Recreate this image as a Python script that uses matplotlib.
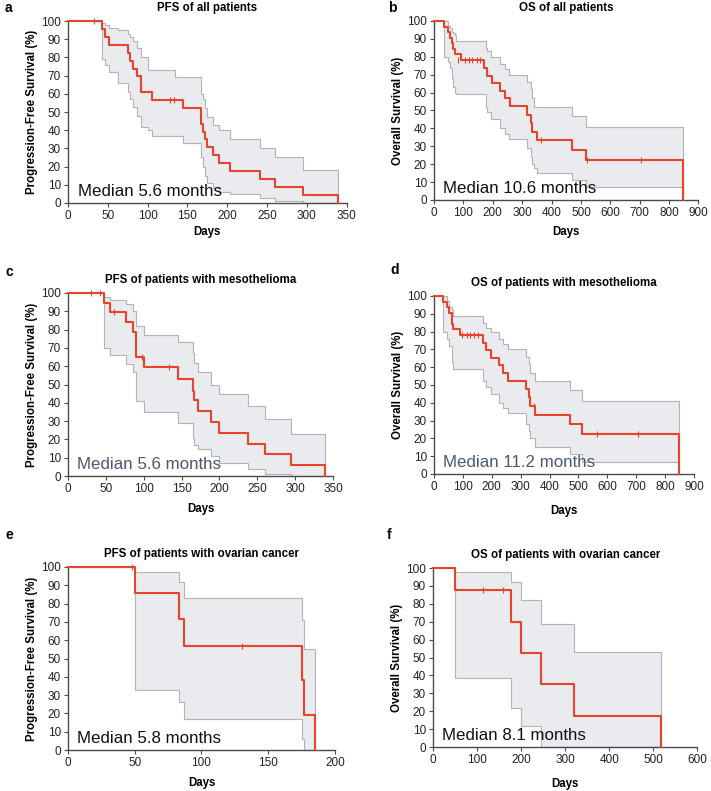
import matplotlib
matplotlib.use("Agg")
import matplotlib.pyplot as plt

plt.rcParams['font.family'] = ['Liberation Sans', 'DejaVu Sans']

# grid of days where any of the three curves changes: survival %, upper CI %, lower CI %
pfs_all_days = [0, 43, 46, 52, 63, 75, 78, 82, 87, 92, 100, 105, 134, 145, 167, 169, 172, 175, 182, 190, 203, 241, 260, 295, 339]
pfs_all_surv = [100, 95.7, 91.3, 87.0, 87.0, 82.6, 78.3, 73.9, 69.6, 60.9, 60.9, 56.5, 56.5, 52.3, 43.6, 39.2, 34.9, 30.5, 26.2, 21.8, 17.4, 13.1, 8.7, 4.4, 0]
pfs_all_hi = [100, 99, 98, 96, 95, 93, 91, 89, 85, 80, 73, 73, 69, 69, 60, 57, 52, 47, 43, 40, 35, 30, 25, 18, 0]
pfs_all_lo = [100, 79, 76, 72, 66, 61, 57, 53, 48, 42, 40, 37, 37, 33, 25, 20, 15, 11, 8, 6, 5, 3, 1, 0, 0]
pfs_all_cens_x = [33, 128, 133]
pfs_all_cens_y = [100, 56.5, 56.5]

os_all_days = [0, 35, 48, 53, 62, 65, 70, 76, 92, 170, 176, 181, 193, 198, 226, 243, 254, 259, 315, 330, 335, 340, 349, 469, 516, 847]
os_all_surv = [100, 96.9, 93.8, 90.6, 87.5, 84.4, 81.3, 81.3, 78.1, 73.8, 73.8, 69.5, 69.5, 65.3, 61.0, 56.7, 56.7, 52.4, 47.7, 43.0, 38.2, 38.2, 33.4, 27.8, 22.3, 0]
os_all_hi = [100, 100, 97, 96, 94, 93, 92, 89, 89, 89, 85, 83, 80, 80, 76, 73, 70, 70, 66, 62, 57, 52, 52, 47, 41, 0]
os_all_lo = [100, 80, 77, 74, 68, 63, 60, 59, 59, 59, 52, 49, 45, 45, 40, 37, 34, 34, 29, 24, 20, 18, 15, 11, 7, 0]
os_all_cens_x = [81, 104, 120, 131, 146, 157, 365, 521, 705]
os_all_cens_y = [78.1, 78.1, 78.1, 78.1, 78.1, 78.1, 33.4, 22.3, 22.3]

pfs_meso_days = [0, 47, 55, 76, 86, 90, 100, 145, 165, 167, 172, 189, 200, 238, 260, 295, 340]
pfs_meso_surv = [100, 94.7, 89.5, 84.2, 78.9, 64.9, 59.7, 53.1, 46.4, 41.5, 35.3, 29.4, 23.5, 17.6, 11.8, 5.9, 0]
pfs_meso_hi = [100, 98, 96, 94, 90, 82, 77, 73, 67, 62, 57, 50, 45, 38, 31, 23, 0]
pfs_meso_lo = [100, 70, 66, 61, 57, 41, 35, 29, 21, 17, 15, 11, 7, 4, 1, 0, 0]
pfs_meso_cens_x = [31, 42, 61, 98, 134]
pfs_meso_cens_y = [100, 100, 89.5, 64.9, 59.7]

os_meso_days = [0, 32, 44, 53, 61, 67, 90, 170, 179, 197, 225, 240, 257, 317, 328, 334, 349, 470, 513, 848]
os_meso_surv = [100, 96.9, 93.8, 90.6, 84.4, 81.3, 78.1, 73.8, 69.5, 65.3, 61.0, 56.7, 52.4, 47.7, 43.0, 38.2, 33.4, 27.8, 22.3, 0]
os_meso_hi = [100, 100, 97, 94, 92, 89, 89, 85, 82, 80, 76, 73, 70, 66, 62, 57, 52, 47, 41, 0]
os_meso_lo = [100, 80, 76, 72, 63, 59, 59, 52, 49, 45, 40, 37, 34, 28, 24, 20, 15, 11, 7, 0]
os_meso_cens_x = [98, 113, 124, 139, 153, 345, 564, 706]
os_meso_cens_y = [78.1, 78.1, 78.1, 78.1, 78.1, 38.2, 22.3, 22.3]

pfs_ov_days = [0, 50, 83, 87, 175, 177, 185]
pfs_ov_surv = [100, 85.7, 71.4, 57.1, 38.1, 19.0, 0]
pfs_ov_hi = [100, 97, 92, 83, 71, 55, 0]
pfs_ov_lo = [100, 33, 26, 17, 6, 0, 0]
pfs_ov_cens_x = [48, 130]
pfs_ov_cens_y = [100, 57.1]

os_ov_days = [0, 49, 176, 200, 245, 319, 518]
os_ov_surv = [100, 87.5, 70.0, 52.5, 35.0, 17.5, 0]
os_ov_hi = [100, 98, 92, 82, 69, 53, 0]
os_ov_lo = [100, 38.5, 22, 12, 0, 0, 0]
os_ov_cens_x = [114, 159]
os_ov_cens_y = [87.5, 87.5]

RED = '#e8432d'
GREY = '#b4b4b4'
FILL = '#e9ebee'
SPINE = '#4a4a4a'


def draw_km(ax, days, surv, hi, lo, cx, cy, xmax, xstep, title, ylabel, median, mcolor, xpad=6):
    ax.fill_between(days, lo, hi, step='post', color=FILL, lw=0, zorder=1)
    ax.step(days, hi, where='post', color=GREY, lw=0.8, zorder=2, clip_on=False)
    ax.step(days, lo, where='post', color=GREY, lw=0.8, zorder=2, clip_on=False)
    ax.step(days, surv, where='post', color=RED, lw=1.5, zorder=3, clip_on=False)
    ax.plot(cx, cy, ls='none', marker='|', ms=4, mew=0.8, color=RED, zorder=3, clip_on=False)

    ax.set_xlim(0, xmax)
    ax.set_ylim(0, 100)
    ax.set_xticks(range(0, xmax + 1, xstep))
    ax.set_yticks(range(0, 101, 10))
    for s in ('top', 'right'):
        ax.spines[s].set_visible(False)
    for s in ('left', 'bottom'):
        ax.spines[s].set_color(SPINE)
        ax.spines[s].set_linewidth(1.0)
    ax.tick_params(length=3, width=0.8, color=SPINE, labelsize=8.5, pad=2, labelcolor='#222222')
    ax.set_title(title, fontsize=8.3, fontweight='bold', pad=7)
    ax.set_xlabel('Days', fontsize=8.3, fontweight='bold', labelpad=xpad)
    ax.set_ylabel(ylabel, fontsize=8.3, fontweight='bold', labelpad=2)
    ax.text(0.035, 0.02, median, transform=ax.transAxes, fontsize=12.2, color=mcolor,
            ha='left', va='bottom', zorder=4)


def main():
    fig = plt.figure(figsize=(7.11, 7.91), dpi=100)
    pfs_lab = 'Progression-Free Survival (%)'
    os_lab = 'Overall Survival (%)'

    ax_a = fig.add_axes([0.0956, 0.7434, 0.392, 0.230])
    draw_km(ax_a, pfs_all_days, pfs_all_surv, pfs_all_hi, pfs_all_lo, pfs_all_cens_x, pfs_all_cens_y,
            350, 50, 'PFS of all patients', pfs_lab, 'Median 5.6 months', '#111111', xpad=3)
    ax_b = fig.add_axes([0.6104, 0.7472, 0.372, 0.2263])
    draw_km(ax_b, os_all_days, os_all_surv, os_all_hi, os_all_lo, os_all_cens_x, os_all_cens_y,
            900, 100, 'OS of all patients', os_lab, 'Median 10.6 months', '#111111', xpad=5)
    ax_c = fig.add_axes([0.0956, 0.3982, 0.3727, 0.2314])
    draw_km(ax_c, pfs_meso_days, pfs_meso_surv, pfs_meso_hi, pfs_meso_lo, pfs_meso_cens_x, pfs_meso_cens_y,
            350, 50, 'PFS of patients with mesothelioma', pfs_lab, 'Median 5.6 months', '#4a5870')
    ax_d = fig.add_axes([0.6104, 0.4008, 0.3657, 0.225])
    draw_km(ax_d, os_meso_days, os_meso_surv, os_meso_hi, os_meso_lo, os_meso_cens_x, os_meso_cens_y,
            900, 100, 'OS of patients with mesothelioma', os_lab, 'Median 11.2 months', '#4a5870', xpad=9)
    ax_e = fig.add_axes([0.0956, 0.0518, 0.3755, 0.2314])
    draw_km(ax_e, pfs_ov_days, pfs_ov_surv, pfs_ov_hi, pfs_ov_lo, pfs_ov_cens_x, pfs_ov_cens_y,
            200, 50, 'PFS of patients with ovarian cancer', pfs_lab, 'Median 5.8 months', '#111111')
    ax_f = fig.add_axes([0.609, 0.0556, 0.372, 0.2263])
    draw_km(ax_f, os_ov_days, os_ov_surv, os_ov_hi, os_ov_lo, os_ov_cens_x, os_ov_cens_y,
            600, 100, 'OS of patients with ovarian cancer', os_lab, 'Median 8.1 months', '#111111', xpad=9)

    # panel letters
    for lab, x, y in [('a', 5, 8), ('b', 388, 8), ('c', 5, 272), ('d', 390, 270), ('e', 5, 535), ('f', 387, 535)]:
        fig.text(x / 711, 1 - y / 791, lab, fontsize=10, fontweight='bold', ha='left', va='center')

    fig.savefig('out.png', dpi=100)


if __name__ == "__main__":
    main()
